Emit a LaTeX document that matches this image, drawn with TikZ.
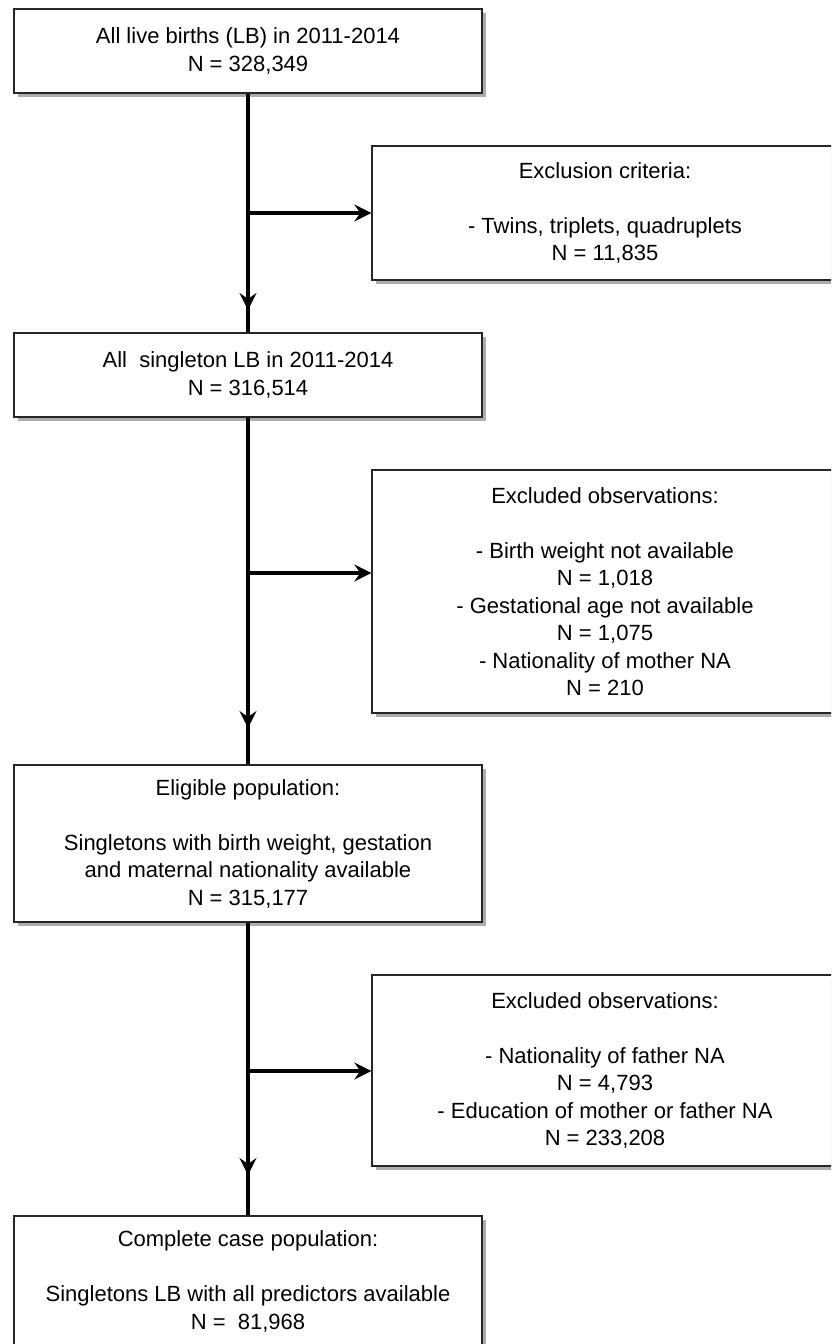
\documentclass[tikz,border=0pt]{standalone}
\usepackage{fontspec}
\setmainfont{Liberation Sans}
\usetikzlibrary{arrows.meta,shadows}
\newcommand\diafont{\fontsize{22pt}{27.5pt}\selectfont}
\begin{document}
\begin{tikzpicture}[x=1pt,y=1pt,
  box/.style={draw=black!85, line width=1.4pt, fill=white, inner sep=0pt,
    align=center, font=\diafont,
    execute at begin node={\rule{0pt}{28pt}},
    drop shadow={shadow xshift=4pt, shadow yshift=-4pt, fill=black!32, opacity=1}},
  leftbox/.style={box, minimum width=468pt},
  rightbox/.style={box, minimum width=466pt},
  conn/.style={line width=4pt, black},
  arr/.style={conn, -{Stealth[length=17pt,width=17pt,inset=6pt]}}
]
\clip (0,0) rectangle (831,-1344);
\fill[white] (0,0) rectangle (831,-1344);

\node[leftbox, minimum height=84pt] (b1) at (248,-51)
  {All live births (LB) in 2011-2014\\N = 328,349};
\node[rightbox, minimum height=134pt] (r1) at (605,-213)
  {Exclusion criteria:\\[27.5pt]- Twins, triplets, quadruplets\\N = 11,835};
\node[leftbox, minimum height=84pt] (b2) at (248,-375)
  {All\ \ singleton LB in 2011-2014\\N = 316,514};
\node[rightbox, minimum height=243pt] (r2) at (605,-591.5)
  {Excluded observations:\\[27.5pt]- Birth weight not available\\N = 1,018\\- Gestational age not available\\N = 1,075\\- Nationality of mother NA\\N = 210};
\node[leftbox, minimum height=157pt] (b3) at (248,-843.5)
  {Eligible population:\\[27.5pt]Singletons with birth weight, gestation\\and maternal nationality available\\N = 315,177};
\node[rightbox, minimum height=191pt] (r3) at (605,-1070.5)
  {Excluded observations:\\[27.5pt]- Nationality of father NA\\N = 4,793\\- Education of mother or father NA\\N = 233,208};
\node[leftbox, minimum height=131pt] (b4) at (248,-1281.5)
  {Complete case population:\\[27.5pt]Singletons LB with all predictors available\\N =\ \ 81,968};

\coordinate (t1) at (248,-310);
\coordinate (t2) at (248,-728);
\coordinate (t3) at (248,-1175);
\coordinate (j1) at (248,-213);
\coordinate (j2) at (248,-573);
\coordinate (j3) at (248,-1071);

\draw[conn] (b1.south) -- (b2.north);
\draw[conn] (b2.south) -- (b3.north);
\draw[conn] (b3.south) -- (b4.north);
\draw[arr] (b1.south) -- (t1);
\draw[arr] (b2.south) -- (t2);
\draw[arr] (b3.south) -- (t3);
\draw[arr] (j1) -- (j1 -| r1.west);
\draw[arr] (j2) -- (j2 -| r2.west);
\draw[arr] (j3) -- (j3 -| r3.west);
\end{tikzpicture}
\end{document}
